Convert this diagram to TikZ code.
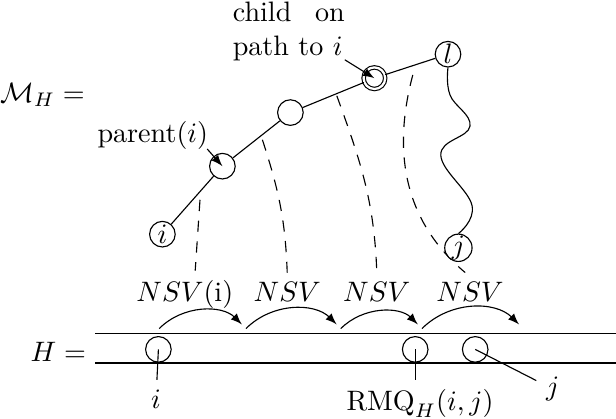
\documentclass[tikz,border=0pt]{standalone}
\usetikzlibrary{arrows}
\tikzset{
  vtx/.style={draw,circle,fill=white,inner sep=0pt,minimum size=0.32cm},
  dvtx/.style={draw,circle,fill=white,double,double distance=0.8pt,inner sep=0pt,minimum size=0.27cm},
  slot/.style={draw,circle,inner sep=0pt,minimum size=0.32cm},
  lbl/.style={anchor=base},
}
\begin{document}
\begin{tikzpicture}
  \useasboundingbox (0,0) rectangle (7.7,5.2375);
  \draw
    (0.53,4.05) node (mh){$\mathcal{M}_H =$}
    (0.73,0.84) node (hh){$H =$}
    (1.91,3.54) node (pl){parent$(i)$}
    (3.61,4.84) node[text width=1.4cm,align=justify] (cl){child on path to $i$}
    (2.31,1.466) node[lbl] (n1){$NSV$(i)}
    (3.59,1.466) node[lbl] (n2){$NSV$}
    (4.71,1.466) node[lbl] (n3){$NSV$}
    (5.875,1.466) node[lbl] (n4){$NSV$};
  \coordinate (d1) at (2.5,2.74);
  \coordinate (d2) at (3.28,3.49);
  \coordinate (d3) at (4.21,4.04);
  \coordinate (d4) at (5.16,4.3);
  \begin{scope}[dash pattern=on 4pt off 3.4pt]
    \draw (d1) -- ([xshift=0.13cm]n1.north);
    \draw (d2) to[out=-72,in=92] (n2.north);
    \draw (d3) to[out=-70,in=92] (n3.north);
    \draw (d4) to[out=-105,in=140] ([xshift=-0.06cm]n4.north);
  \end{scope}
  \draw
    (2.03,2.31) node[vtx] (i){$i$}
    (2.78,3.16) node[vtx] (p){}
    (3.63,3.83) node[vtx] (m){}
    (4.68,4.26) node[dvtx] (c){}
    (5.60,4.56) node[vtx] (l){$l$}
    (5.73,2.14) node[vtx] (j){$j$};
  \begin{scope}[-]
    \draw (i) to (p);
    \draw (p) to (m);
    \draw (m) to (c);
    \draw (c) to (l);
    \draw plot[smooth,tension=0.7] coordinates {(l.south) (5.625,4.05) (5.875,3.66) (5.51,3.3) (5.9,2.67) (j.north)};
  \end{scope}
  \coordinate (pa) at (2.59,3.375);
  \coordinate (ca) at (4.31,4.49);
  \draw[-latex] (pa) -- (p.center);
  \draw[-latex] (ca) -- (c.center);
  \draw (1.19,1.07) -- (7.7,1.07);
  \draw (1.19,0.70) -- (7.7,0.70);
  \coordinate (a0) at (1.99,1.13);
  \coordinate (a1) at (3.075,1.13);
  \coordinate (a2) at (4.26,1.13);
  \coordinate (a3) at (5.275,1.13);
  \coordinate (a4) at (6.54,1.13);
  \begin{scope}[-latex,shorten >=2.1pt]
    \draw (a0) to[bend left=45] (a1);
    \draw (a1) to[bend left=45] (a2);
    \draw (a2) to[bend left=45] (a3);
    \draw (a3) to[bend left=45] (a4);
  \end{scope}
  \draw
    (1.98,0.87) node[slot] (b1){}
    (5.19,0.87) node[slot] (b2){}
    (5.94,0.87) node[slot] (b3){}
    (1.95,0.25) node (il){$i$}
    (5.25,0.104) node[lbl] (rl){$\mathrm{RMQ}_H(i,j)$}
    (6.91,0.375) node (jl){$j$};
  \draw (b1.center) -- (il);
  \draw (b2.center) -- (b2 |- rl.north);
  \draw (b3.center) -- (jl);
\end{tikzpicture}
\end{document}
